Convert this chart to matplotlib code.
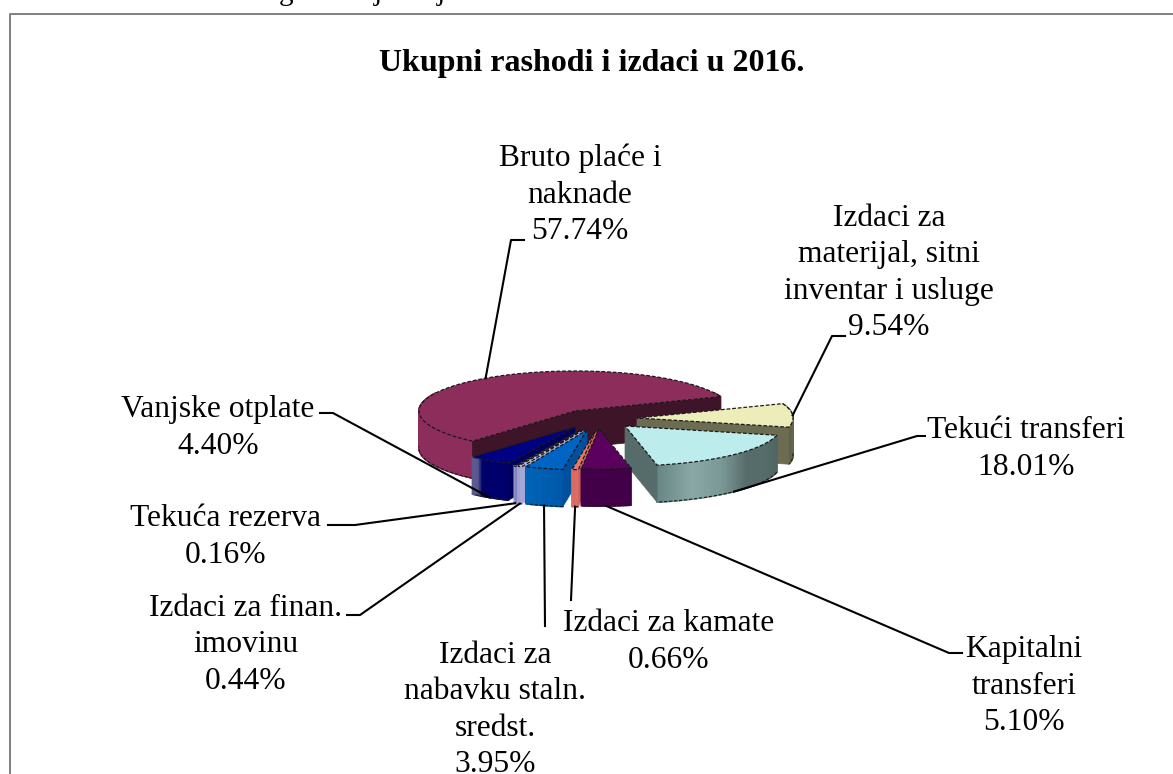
import numpy as np
import matplotlib
matplotlib.use('Agg')
import matplotlib.pyplot as plt
from matplotlib.colors import LinearSegmentedColormap
from matplotlib.patches import Polygon

plt.rcParams['font.family'] = ['Liberation Serif', 'DejaVu Serif']

# ---------------------- data ----------------------
categories = ['Bruto plaće i\nnaknade', 'Izdaci za\nmaterijal, sitni\ninventar i usluge',
              'Tekući transferi', 'Kapitalni\ntransferi', 'Izdaci za kamate',
              'Izdaci za\nnabavku staln.\nsredst.', 'Izdaci za finan.\nimovinu',
              'Tekuća rezerva', 'Vanjske otplate']
values = [57.74, 9.54, 18.01, 5.10, 0.66, 3.95, 0.44, 0.16, 4.40]

# ---------------------- colours: top, cut face, rim stops ----------------------
top_colors = ['#8c2d5c', '#ecedb9', '#bcecec', '#5c0060', '#e8776c', '#0064c4', '#c4c4ec', '#9c9cd0', '#000082']
cut_colors = ['#3e1428', '#6c6c52', '#566c6a', '#3e0044', '#d06458', '#0050a0', '#a8a8d8', '#8080b8', '#000060']
rim_colors = [['#8c2d5c', '#8c2d5c'], ['#77775c', '#62624a'],
              ['#4f6563', '#566c6a', '#566c6a', '#7a9896', '#8aa8a6', '#6a8886'], ['#420048', '#420048'],
              ['#e0706a', '#d86a60'], ['#0058a8', '#0064b8'], ['#b0b0e0', '#a0a0d0'],
              ['#9090c8', '#9090c8'], ['#00006c'] * 7 + ['#5a5a90', '#5a5a90']]

# ---------------------- layout (pixels of the 1173x774 picture) ----------------------
RX, RY, DEPTH = 156, 40, 37
START_ANGLE = 228.9
apex = [(575, 411), (637, 418), (625, 426), (599, 429), (596, 430),
        (587, 430), (583, 430), (581, 430), (575, 427)]
draw_order = [0, 1, 2, 8, 7, 6, 5, 4, 3]

label_pos = [(580, 195), (889, 273), (1026, 449), (1024, 686), (669, 642),
             (495, 710), (246, 645), (226, 537), (218, 428)]
# leader: does it leave the bottom of the rim (1) or the top (0), then its waypoints
leader_low = [0, 0, 1, 1, 1, 1, 1, 1, 1]
leader_way = [[(511, 240), (524, 240)], [(832, 336), (845, 336)], [(917, 436), (925, 436)],
              [(949, 653), (962, 653)], [(571, 600)], [(545, 626)],
              [(360, 615), (347, 615)], [(355, 525), (328, 525)], [(333, 413), (320, 413)]]

sweeps = np.array(values) / sum(values) * 360
starts = START_ANGLE - np.concatenate([[0], np.cumsum(sweeps)[:-1]])


def rim_pts(i, ang):
    a = np.radians(ang)
    return apex[i][0] + RX * np.cos(a), apex[i][1] - RY * np.sin(a)


fig = plt.figure(figsize=(11.73, 7.74), dpi=100)
ax = fig.add_axes([0, 0, 1, 1])
ax.set_xlim(0, 1173)
ax.set_ylim(774, 0)
ax.axis('off')

# frame of the page the chart sits on, cut off at the right and bottom
ax.plot([10, 10, 1173], [774, 13.5, 13.5], color='#808080', lw=1.4, zorder=1)

# descenders of the line of text cut off above the chart
for ch, x in zip(['g', 'j', 'j'], [286, 378, 441]):
    ax.text(x, -7, ch, fontsize=21, ha='center', va='center', color='black', clip_on=False)

z = 2
for i in draw_order:
    a1, a2 = starts[i], starts[i] - sweeps[i]
    angs = np.linspace(a1, a2, max(int(sweeps[i] * 1.5), 6))
    x, y = rim_pts(i, angs)
    cm = LinearSegmentedColormap.from_list('rim', rim_colors[i])
    # outer side, strip by strip so the shading runs along the rim
    low_x, low_y = [], []
    for k in range(len(angs) - 1):
        if np.sin(np.radians((angs[k] + angs[k + 1]) / 2)) > 0.45:
            continue
        c = cm(k / (len(angs) - 2))
        ax.add_patch(Polygon([(x[k], y[k]), (x[k + 1], y[k + 1]), (x[k + 1], y[k + 1] + DEPTH),
                              (x[k], y[k] + DEPTH)], fc=c, ec=c, lw=1.2, zorder=z))
        if np.sin(np.radians(angs[k])) < 0.05:
            low_x.append(x[k])
            low_y.append(y[k] + DEPTH)
    # cut faces that look towards the viewer
    ax_pt, ay_pt = apex[i]
    for ang, nrm, px, py in [(a1, a1 + 90, x[0], y[0]), (a2, a2 - 90, x[-1], y[-1])]:
        if np.sin(np.radians(nrm)) < 0:
            ax.add_patch(Polygon([(ax_pt, ay_pt), (px, py), (px, py + DEPTH), (ax_pt, ay_pt + DEPTH)],
                                 fc=cut_colors[i], ec=cut_colors[i], lw=0.5, zorder=z))
    # top face with the dashed dark outline
    top = [(ax_pt, ay_pt)] + list(zip(x, y))
    ax.add_patch(Polygon(top, fc=top_colors[i], ec='none', zorder=z))
    ax.add_patch(Polygon(top, fill=False, ec='#1a1a1a', lw=0.9, ls=(0, (3, 1.5)), zorder=z))
    # dashed lower edge of the front of the rim
    ax.plot(low_x, low_y, color='#1a1a1a', lw=0.8, ls=(0, (3, 1.5)), zorder=z)
    z += 1

# leaders and labels
for i, cat in enumerate(categories):
    mid = starts[i] - sweeps[i] / 2
    sx, sy = rim_pts(i, mid)
    pts = [(sx, sy + DEPTH * leader_low[i])] + leader_way[i]
    ax.plot(*zip(*pts), color='black', lw=1.5, zorder=30)
    ax.text(label_pos[i][0], label_pos[i][1], f'{cat}\n{values[i]:.2f}%', fontsize=22.7,
            ha='center', va='center', linespacing=1.33, color='black', zorder=31)

ax.text(592, 63, 'Ukupni rashodi i izdaci u 2016.', fontsize=23, fontweight='bold',
        ha='center', va='center', color='black')

fig.savefig('out.png', dpi=100, facecolor='white')
